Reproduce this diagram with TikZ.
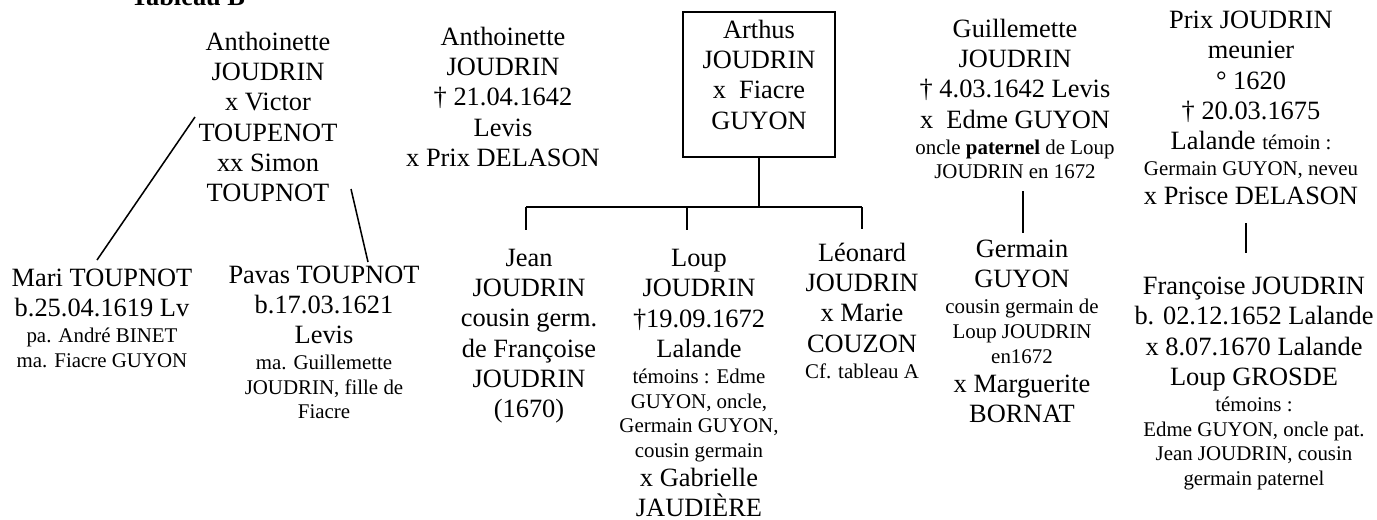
\documentclass[tikz,border=0pt]{standalone}
\usepackage{fontspec}
\setmainfont{Liberation Serif}
\newcommand\Sm{\fontsize{9.5}{11}\selectfont}
\newcommand\st{\rule{0pt}{9pt}}
\begin{document}
\begin{tikzpicture}[x=0.454545pt,y=-0.454545pt,
  blk/.style={align=center,inner sep=0pt,outer sep=0pt,anchor=north,font=\fontsize{12}{13.8}\selectfont},
  ln/.style={line width=0.7pt}]
\useasboundingbox (0,0) rectangle (1377,519);
% title
\node[anchor=base,inner sep=0pt,font=\fontsize{12}{13.8}\selectfont\bfseries] (titre) at (188,5) {Tableau B};
% first generation
\node[blk] (anto1) at (268,30.2) {\st Anthoinette\\JOUDRIN\\x Victor\\TOUPENOT\\xx Simon\\TOUPNOT};
\node[blk] (anto2) at (503,25.2) {\st Anthoinette\\JOUDRIN\\† 21.04.1642\\Levis\\x Prix DELASON};
\node[draw,line width=0.75pt,minimum width=69.09pt,minimum height=65.9pt,inner sep=0pt] (abox) at (759,84.5) {};
\node[blk] (arthus) at (759,18.2) {\st Arthus\\JOUDRIN\\x~~Fiacre\\GUYON};
\node[blk] (guil) at (1015,17.2) {\st Guillemette\\JOUDRIN\\† 4.03.1642 Levis\\x~~Edme GUYON\\[-2pt]{\Sm oncle \textbf{paternel} de Loup}\\[-2.6pt]{\Sm JOUDRIN en 1672}};
\node[blk] (prix) at (1251,8.7) {\st Prix JOUDRIN\\meunier\\° 1620\\† 20.03.1675\\Lalande {\Sm témoin :}\\[-2pt]{\Sm Germain GUYON, neveu}\\[-0.6pt]x Prisce DELASON};
% second generation
\node[blk] (mari) at (102,266.7) {\st Mari TOUPNOT\\b.25.04.1619 Lv\\[-2pt]{\Sm pa. André BINET}\\[-2.6pt]{\Sm ma. Fiacre GUYON}};
\node[blk] (pavas) at (324,263.2) {\st Pavas TOUPNOT\\b.17.03.1621\\Levis\\[-2pt]{\Sm ma. Guillemette}\\[-2.6pt]{\Sm JOUDRIN, fille de}\\[-2.6pt]{\Sm Fiacre}};
\node[blk] (jean) at (529,246.2) {\st Jean\\JOUDRIN\\cousin germ.\\de Françoise\\JOUDRIN\\(1670)};
\node[blk] (loup) at (699,246.7) {\st Loup\\JOUDRIN\\†19.09.1672\\Lalande\\[-2pt]{\Sm témoins : Edme}\\[-2.6pt]{\Sm GUYON, oncle,}\\[-2.6pt]{\Sm Germain GUYON,}\\[-2.6pt]{\Sm cousin germain}\\[-0.6pt]x Gabrielle\\JAUDIÈRE};
\node[blk] (leon) at (862,241.2) {\st Léonard\\JOUDRIN\\x Marie\\COUZON\\[-2pt]{\Sm Cf. tableau A}};
\node[blk] (germ) at (1022,237.7) {\st Germain\\GUYON\\[-2pt]{\Sm cousin germain de}\\[-2.6pt]{\Sm Loup JOUDRIN}\\[-2.6pt]{\Sm en1672}\\[-0.6pt]x Marguerite\\BORNAT};
\node[blk] (fran) at (1254,274.7) {\st Françoise JOUDRIN\\b. 02.12.1652 Lalande\\x 8.07.1670 Lalande\\Loup GROSDE\\[-2pt]{\Sm témoins :}\\[-2.6pt]{\Sm Edme GUYON, oncle pat.}\\[-2.6pt]{\Sm Jean JOUDRIN, cousin}\\[-2.6pt]{\Sm germain paternel}};
% connector end points
\coordinate (a1s) at (195,117);
\coordinate (maritop) at (97,260);
\coordinate (a1t) at (351,189);
\coordinate (pavastop) at (368,262);
\coordinate (bar) at (759,207);
\coordinate (barL) at (526,207);
\coordinate (barR) at (862,207);
\coordinate (barM) at (687,207);
\coordinate (jeant) at (526,230);
\coordinate (loupt) at (687,230);
\coordinate (leont) at (862,229);
\coordinate (guilb) at (1023,191);
\coordinate (germt) at (1023,233);
\coordinate (prixb) at (1246,223);
\coordinate (frant) at (1246,253);
% connectors
\draw[ln] (a1s) -- (maritop);
\draw[ln] (a1t) -- (pavastop);
\draw[ln] (abox.south) -- (abox.south |- bar);
\draw[ln] (barL) -- (barR);
\draw[ln] (barL) -- (jeant);
\draw[ln] (barM) -- (loupt);
\draw[ln] (barR) -- (leont);
\draw[ln] (guilb) -- (germt);
\draw[ln] (prixb) -- (frant);
\end{tikzpicture}
\end{document}
